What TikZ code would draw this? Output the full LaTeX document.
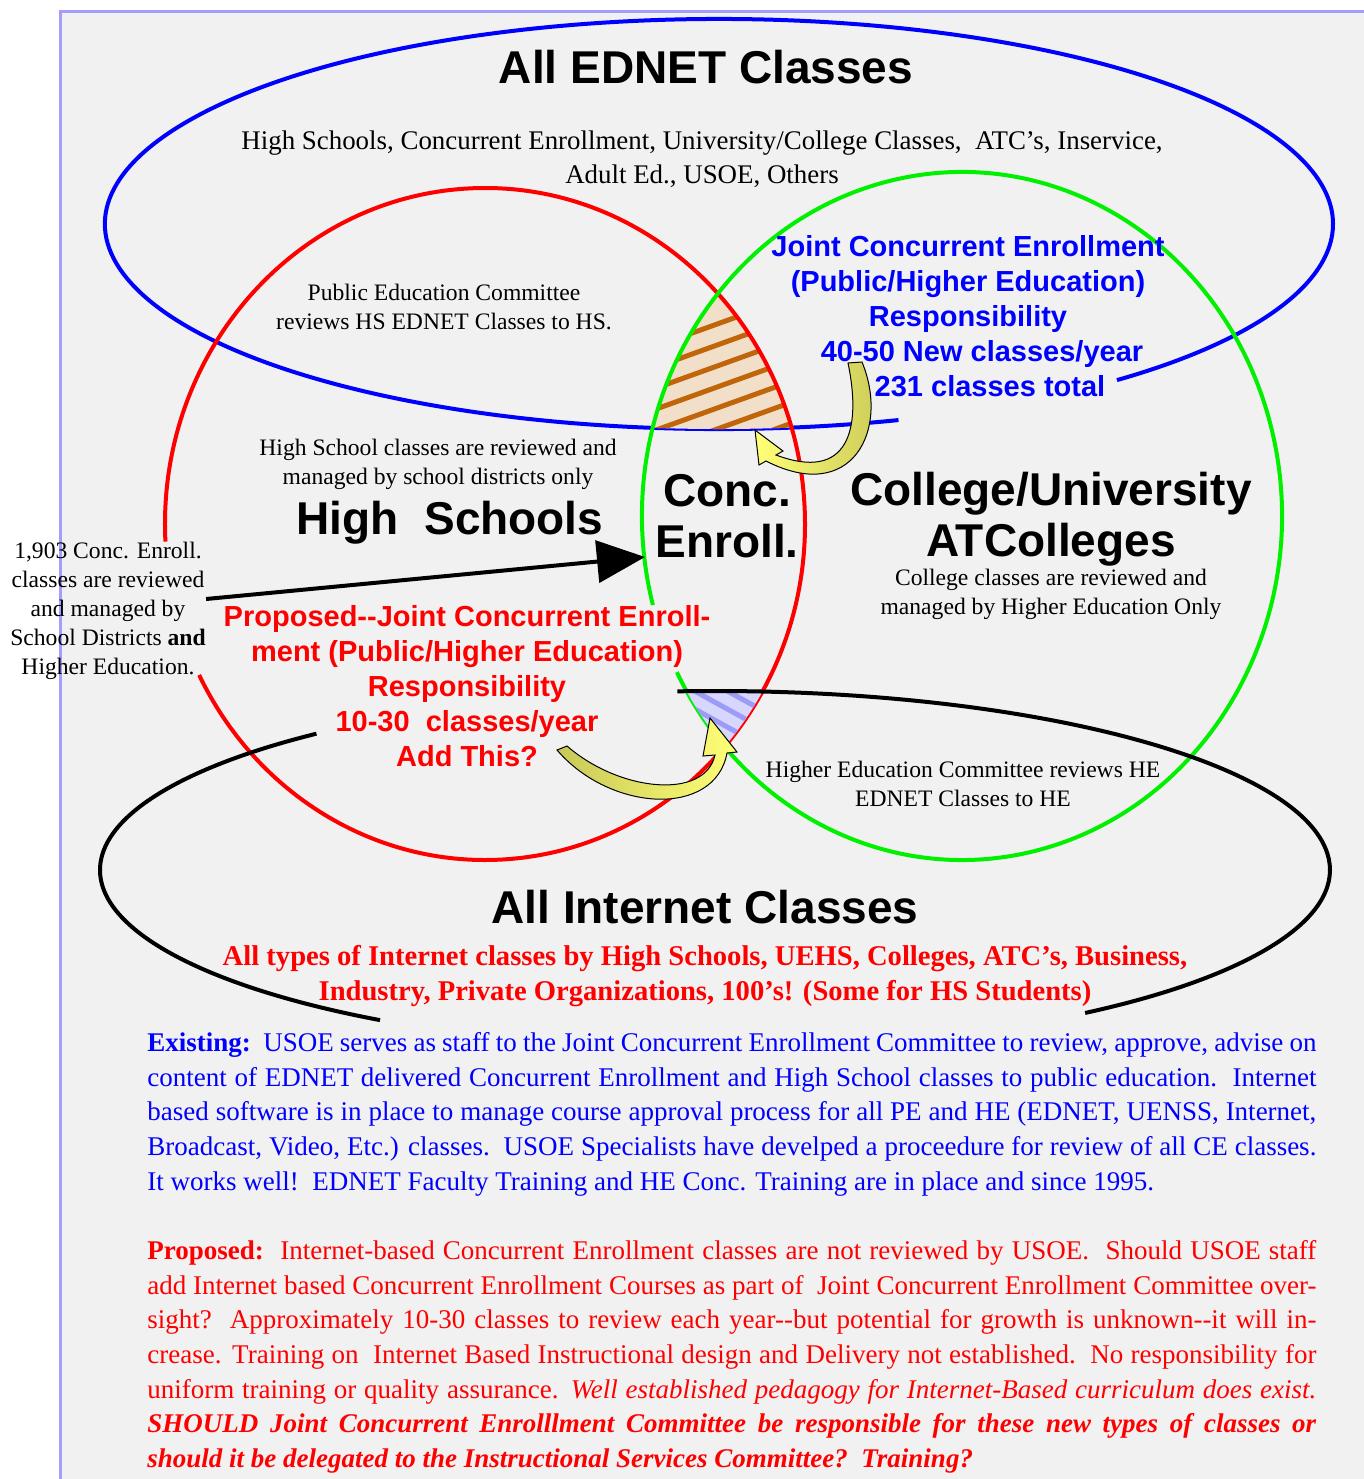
\documentclass[tikz,border=0pt]{standalone}
\usepackage{fontspec}
\setmainfont{Liberation Serif}
\setsansfont{Liberation Sans}
\usetikzlibrary{arrows.meta}

\definecolor{panelgray}{HTML}{F1F1F1}
\definecolor{panelrim}{HTML}{A49CFF}
\definecolor{ceblue}{HTML}{0000FF}
\definecolor{cered}{HTML}{FF0000}
\definecolor{cegreen}{HTML}{00F000}
\definecolor{hatchtan}{HTML}{F2DFCA}
\definecolor{hatchbrown}{HTML}{C0650A}
\definecolor{hatchlav}{HTML}{D6D6FF}
\definecolor{hatchlilac}{HTML}{9C9CF6}
\definecolor{arrowyellow}{HTML}{FFFF77}
\definecolor{arrowolive}{HTML}{C8C858}

% one justified line of the bottom paragraphs
\newcommand{\fullline}[1]{\makebox[584.5pt][s]{#1}}

\tikzset{
  bigtitle/.style={font=\sffamily\bfseries\fontsize{23}{25.5}\selectfont, align=center, inner sep=0pt},
  boldblue/.style={font=\sffamily\bfseries\fontsize{14.5}{17.5}\selectfont, text=ceblue, align=center, inner sep=0pt},
  boldred/.style={font=\sffamily\bfseries\fontsize{14.5}{17.5}\selectfont, text=cered, align=center, inner sep=0pt},
  smallnote/.style={font=\fontsize{11.8}{14.5}\selectfont, align=center, inner sep=0pt},
  listnote/.style={font=\fontsize{13.45}{17}\selectfont, align=center, inner sep=0pt},
  redlist/.style={font=\bfseries\fontsize{14.3}{17.5}\selectfont, text=cered, align=center, inner sep=0pt},
  para/.style={font=\fontsize{13.5}{17.35}\selectfont, align=left, inner sep=0pt, anchor=north west},
  ring/.style={line width=2pt},
  pointer/.style={line width=2pt, -{Triangle[length=24pt,width=21pt]}},
  fatarrow/.style={draw=black, line width=0.5pt}
}

\begin{document}
\begin{tikzpicture}[x=0.5pt, y=-0.5pt]
    \useasboundingbox (0,0) rectangle (1364,1479);
    \fill[white] (0,0) rectangle (1364,1479);
    % panel
    \draw[panelrim, line width=1.5pt, fill=panelgray] (60,11) rectangle (1420,1540);

    % EDNET ellipse (gap behind the class count)
    \draw[ring, ceblue] (719,224) ++(73:614 and 205)
        arc[start angle=73, end angle=409.6, x radius=614, y radius=205];

    % shared part of EDNET, high school and college
    \begin{scope}
        \clip (485,524) ellipse [x radius=320, y radius=336];
        \clip (962,516) ellipse [x radius=320, y radius=344];
        \clip (719,224) ellipse [x radius=614, y radius=205];
        \fill[hatchtan] (600,250) rectangle (850,450);
        \foreach \y in {323,344,...,449}
            \draw[hatchbrown, line width=2.5pt] (640,\y+28.8) -- (800,\y-28.8);
    \end{scope}

    % high schools and colleges
    \draw[ring, cered] (485,524) ++(177:320 and 336)
        arc[start angle=177, end angle=513.3, x radius=320, y radius=336];
    \draw[ring, cegreen] (962,516) ++(165:320 and 344)
        arc[start angle=165, end angle=513, x radius=320, y radius=344];

    % shared part with the internet classes
    \begin{scope}
        \clip (485,524) ellipse [x radius=320, y radius=336];
        \clip (962,516) ellipse [x radius=320, y radius=344];
        \clip (715,870) ellipse [x radius=615, y radius=179];
        \fill[hatchlav] (600,650) rectangle (850,800);
        \foreach \y in {687,705,...,741}
            \draw[hatchlilac, line width=2.5pt] (670,\y-27.5) -- (770,\y+27.5);
    \end{scope}

    % internet ellipse
    \draw[ring] (715,870) ++(123:615 and 179)
        arc[start angle=123, end angle=229.6, x radius=615, y radius=179];
    \draw[ring] (715,870) ++(266.5:615 and 179)
        arc[start angle=266.5, end angle=413, x radius=615, y radius=179];

    % labels
    \node[bigtitle] (ednet) at (706,67) {All EDNET Classes};
    \node[listnote] (ednetlist) at (702,159) {High Schools, Concurrent Enrollment, University/College Classes,\ \ ATC’s, Inservice,\\Adult Ed., USOE, Others};
    \node[smallnote] (pecomm) at (444,307) {Public Education Committee\\reviews HS EDNET Classes to HS.};
    \node[smallnote] (hsnote) at (438,464) {High School classes are reviewed and\\managed by school districts only};
    \node[bigtitle] (hs) at (450,523) {High\ \ Schools};
    \node[bigtitle] (ce) at (727,516) {Conc.\\Enroll.};
    \node[bigtitle] (college) at (1051,519) {College/University\\ATColleges};
    \node[smallnote] (collnote) at (1051,594) {College classes are reviewed and\\managed by Higher Education Only};
    \node[boldblue] (jointce) at (968,316) {Joint Concurrent Enrollment\\(Public/Higher Education)\\Responsibility\\\hspace{14pt}40-50 New classes/year\\\hspace{22pt}231 classes total};
    \node[boldred] (propce) at (467,686) {Proposed-{}-Joint Concurrent Enroll-\\ment (Public/Higher Education)\\Responsibility\\10-30\ \ classes/year\\Add This?};
    \node[smallnote] (cenote) at (108,611) {1,903 Conc. Enroll.\\classes are reviewed\\and managed by\\School Districts \textbf{and}\\Higher Education.};
    \node[smallnote] (henote) at (963,784) {Higher Education Committee reviews HE\\EDNET Classes to HE};
    \node[bigtitle] (internet) at (705,907) {All Internet Classes};
    \node[redlist] (inttypes) at (705,976) {All types of Internet classes by High Schools, UEHS, Colleges, ATC’s, Business,\\Industry, Private Organizations, 100’s! (Some for HS Students)};

    % count of concurrent classes
    \coordinate (cetip) at (645,557);
    \draw[pointer] ([yshift=6pt]cenote.east) -- (cetip);

    % curved arrows into the shared parts
    \draw[fatarrow, left color=arrowyellow, right color=arrowolive]
        (848,363) .. controls (862,430) and (848,482) .. (776,455)
        -- (783,451) -- (755,430) -- (759,465) -- (766,461)
        .. controls (852,505) and (890,430) .. (862,362) -- cycle;
    \draw[fatarrow, left color=arrowolive, right color=arrowyellow]
        (567,746) .. controls (620,792) and (705,800) .. (715,755)
        -- (703,756) -- (710,718) -- (737,752) -- (727,753)
        .. controls (715,818) and (610,812) .. (557,750) -- cycle;

    % notes below
    \node[para, text=ceblue] (existing) at (147,1032) {%
        \fullline{\textbf{Existing:}\ \ USOE serves as staff to the Joint Concurrent Enrollment Committee to review, approve, advise on}\\
        \fullline{content of EDNET delivered Concurrent Enrollment and High School classes to public education.\ \ Internet}\\
        \fullline{based software is in place to manage course approval process for all PE and HE (EDNET, UENSS, Internet,}\\
        \fullline{Broadcast, Video, Etc.) classes.\ \ USOE Specialists have develped a proceedure for review of all CE classes.}\\
        It works well!\ \ EDNET Faculty Training and HE Conc. Training are in place and since 1995.};
    \node[para, text=cered] (proposed) at (147,1240) {%
        \fullline{\textbf{Proposed:}\ \ Internet-based Concurrent Enrollment classes are not reviewed by USOE.\ \ Should USOE staff}\\
        \fullline{add Internet based Concurrent Enrollment Courses as part of\ \ Joint Concurrent Enrollment Committee over-}\\
        \fullline{sight?\ \ Approximately 10-30 classes to review each year-{}-but potential for growth is unknown-{}-it will in-}\\
        \fullline{crease. Training on\ \ Internet Based Instructional design and Delivery not established.\ \ No responsibility for}\\
        \fullline{uniform training or quality assurance. \textit{Well established pedagogy for Internet-Based curriculum does exist.}}\\
        \fullline{\textbf{\textit{SHOULD Joint Concurrent Enrolllment Committee be responsible for these new types of classes or}}}\\
        \textbf{\textit{should it be delegated to the Instructional Services Committee?\ \ Training?}}};
\end{tikzpicture}
\end{document}
